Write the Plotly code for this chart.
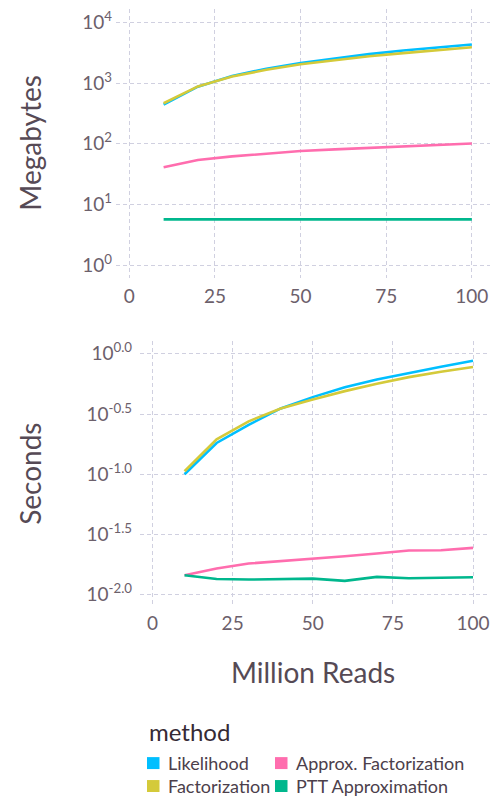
import plotly.graph_objects as go

# Data -------------------------------------------------------------------
million_reads = [10, 20, 30, 40, 50, 60, 70, 80, 90, 100]
methods = ["Likelihood", "Factorization", "Approx. Factorization", "PTT Approximation"]
colors = ["#00BFFF", "#D4CA3A", "#FF6DAE", "#00B78D"]

megabytes = {
    "Likelihood": [440, 870, 1300, 1720, 2130, 2560, 2990, 3420, 3860, 4295],
    "Factorization": [465, 880, 1280, 1650, 2030, 2390, 2750, 3100, 3480, 3880],
    "Approx. Factorization": [41, 54, 62, 69, 76, 81, 86, 91, 96, 101],
    "PTT Approximation": [5.7, 5.7, 5.7, 5.7, 5.7, 5.7, 5.7, 5.7, 5.7, 5.7],
}
seconds = {
    "Likelihood": [0.100, 0.182, 0.257, 0.352, 0.437, 0.528, 0.612, 0.695, 0.780, 0.875],
    "Factorization": [0.106, 0.195, 0.275, 0.352, 0.418, 0.490, 0.564, 0.640, 0.710, 0.776],
    "Approx. Factorization": [0.01452, 0.0165, 0.01816, 0.01897, 0.01997, 0.0209, 0.0220, 0.0233, 0.0234, 0.0245],
    "PTT Approximation": [0.01452, 0.01353, 0.01337, 0.01353, 0.0136, 0.01303, 0.01406, 0.0137, 0.0139, 0.01396],
}

x_ticks = [0, 25, 50, 75, 100]
mb_tickvals = [1, 10, 100, 1000, 10000]
mb_ticktext = ["10<sup>0</sup>", "10<sup>1</sup>", "10<sup>2</sup>", "10<sup>3</sup>", "10<sup>4</sup>"]
sec_exponents = [0.0, -0.5, -1.0, -1.5, -2.0]
sec_ticktext = ["10<sup>0.0</sup>", "10<sup>-0.5</sup>", "10<sup>-1.0</sup>", "10<sup>-1.5</sup>", "10<sup>-2.0</sup>"]

W, H = 492, 798
FONT = "Lato"
TICK_COLOR = "#6c606b"
LABEL_COLOR = "#564a55"
GRID_COLOR = "#D0D0E0"

fig = go.Figure()

for name, col in zip(methods, colors):
    fig.add_trace(go.Scatter(x=million_reads, y=megabytes[name], mode="lines",
                             line=dict(color=col, width=2.6), name=name,
                             showlegend=False, xaxis="x", yaxis="y"))
for name, col in zip(methods, colors):
    fig.add_trace(go.Scatter(x=million_reads, y=seconds[name], mode="lines",
                             line=dict(color=col, width=2.6), name=name,
                             showlegend=False, xaxis="x2", yaxis="y2"))


def px_x(p):
    return p / W


def px_y(p):
    return 1 - p / H


common_x = dict(tickvals=x_ticks, showgrid=True, gridcolor=GRID_COLOR, griddash="4px,3px",
                gridwidth=1, zeroline=False, showline=False, ticks="",
                tickfont=dict(family=FONT, size=19, color=TICK_COLOR),
                ticklabelstandoff=5, range=[-3.9, 105.3])
common_y = dict(type="log", showgrid=True, gridcolor=GRID_COLOR, griddash="4px,3px",
                gridwidth=1, zeroline=False, showline=False, ticks="",
                tickfont=dict(family=FONT, size=19, color=TICK_COLOR))

fig.update_layout(
    width=W, height=H,
    margin=dict(l=0, r=0, t=0, b=0),
    paper_bgcolor="white", plot_bgcolor="white",
    showlegend=False,
    xaxis=dict(domain=[px_x(116), px_x(490)], anchor="y", **common_x),
    yaxis=dict(domain=[px_y(277), px_y(7)], anchor="x", range=[-0.213, 4.218],
               tickvals=mb_tickvals, ticktext=mb_ticktext, ticklabelstandoff=3, **common_y),
    xaxis2=dict(domain=[px_x(140), px_x(490)], anchor="y2", **common_x),
    yaxis2=dict(domain=[px_y(605), px_y(340)], anchor="x2", range=[-2.089, 0.105],
                tickvals=[10 ** e for e in sec_exponents], ticktext=sec_ticktext,
                ticklabelstandoff=7, **common_y),
)

annotations = [
    dict(text="Megabytes", x=px_x(30), y=px_y(142), xref="paper", yref="paper",
         textangle=-90, showarrow=False, xanchor="center", yanchor="middle",
         font=dict(family=FONT, size=28, color=LABEL_COLOR)),
    dict(text="Seconds", x=px_x(30), y=px_y(473), xref="paper", yref="paper",
         textangle=-90, showarrow=False, xanchor="center", yanchor="middle",
         font=dict(family=FONT, size=28, color=LABEL_COLOR)),
    dict(text="Million Reads", x=px_x(313), y=px_y(672), xref="paper", yref="paper",
         showarrow=False, xanchor="center", yanchor="middle",
         font=dict(family=FONT, size=28, color=LABEL_COLOR)),
    dict(text="method", x=px_x(147), y=px_y(731), xref="paper", yref="paper",
         showarrow=False, xanchor="left", yanchor="middle",
         font=dict(family=FONT, size=24, color="#362a35")),
]

# Legend keys: column-major, two per column
key_cols = [147, 275]
key_rows = [763, 786]
shapes = []
for i, (name, col) in enumerate(zip(methods, colors)):
    cx = key_cols[i // 2]
    cy = key_rows[i % 2]
    shapes.append(dict(type="rect", xref="paper", yref="paper",
                       x0=px_x(cx), x1=px_x(cx + 12.5), y0=px_y(cy + 6), y1=px_y(cy - 6),
                       fillcolor=col, line=dict(width=0)))
    annotations.append(dict(text=name, x=px_x(cx + 19), y=px_y(cy), xref="paper", yref="paper",
                            showarrow=False, xanchor="left", yanchor="middle",
                            font=dict(family=FONT, size=18, color="#4c404b")))

fig.update_layout(annotations=annotations, shapes=shapes)

fig.write_html("out.html")
